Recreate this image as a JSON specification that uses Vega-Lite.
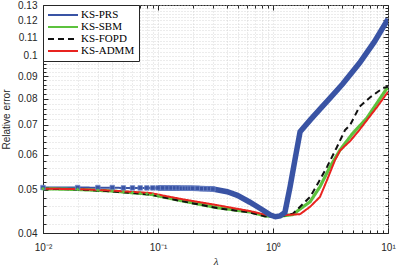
{
  "$schema": "https://vega.github.io/schema/vega-lite/v6.json",
  "width": 345,
  "height": 228,
  "autosize": "none",
  "padding": {"left": 43, "top": 5, "right": 10, "bottom": 33},
  "background": "white",
  "datasets": {
    "lines": [
      {"lam": 0.01, "err": 0.0506, "method": "KS-PRS"},
      {"lam": 0.02, "err": 0.0506, "method": "KS-PRS"},
      {"lam": 0.05, "err": 0.0505, "method": "KS-PRS"},
      {"lam": 0.1, "err": 0.0505, "method": "KS-PRS"},
      {"lam": 0.2, "err": 0.0504, "method": "KS-PRS"},
      {"lam": 0.3, "err": 0.0502, "method": "KS-PRS"},
      {"lam": 0.4, "err": 0.0495, "method": "KS-PRS"},
      {"lam": 0.49, "err": 0.0486, "method": "KS-PRS"},
      {"lam": 0.63, "err": 0.0469, "method": "KS-PRS"},
      {"lam": 0.82, "err": 0.045, "method": "KS-PRS"},
      {"lam": 0.95, "err": 0.0439, "method": "KS-PRS"},
      {"lam": 1.05, "err": 0.0435, "method": "KS-PRS"},
      {"lam": 1.15, "err": 0.0437, "method": "KS-PRS"},
      {"lam": 1.27, "err": 0.0445, "method": "KS-PRS"},
      {"lam": 1.41, "err": 0.0509, "method": "KS-PRS"},
      {"lam": 1.55, "err": 0.0583, "method": "KS-PRS"},
      {"lam": 1.72, "err": 0.0675, "method": "KS-PRS"},
      {"lam": 2.1, "err": 0.0717, "method": "KS-PRS"},
      {"lam": 2.56, "err": 0.0759, "method": "KS-PRS"},
      {"lam": 3.13, "err": 0.0803, "method": "KS-PRS"},
      {"lam": 4.03, "err": 0.0864, "method": "KS-PRS"},
      {"lam": 5.65, "err": 0.0963, "method": "KS-PRS"},
      {"lam": 7.6, "err": 0.1074, "method": "KS-PRS"},
      {"lam": 10, "err": 0.1209, "method": "KS-PRS"},

      {"lam": 0.01, "err": 0.0503, "method": "KS-SBM"},
      {"lam": 0.02, "err": 0.0501, "method": "KS-SBM"},
      {"lam": 0.04, "err": 0.0497, "method": "KS-SBM"},
      {"lam": 0.085, "err": 0.0489, "method": "KS-SBM"},
      {"lam": 0.165, "err": 0.0472, "method": "KS-SBM"},
      {"lam": 0.326, "err": 0.0456, "method": "KS-SBM"},
      {"lam": 0.63, "err": 0.0446, "method": "KS-SBM"},
      {"lam": 0.85, "err": 0.0437, "method": "KS-SBM"},
      {"lam": 1.0, "err": 0.0436, "method": "KS-SBM"},
      {"lam": 1.2, "err": 0.0437, "method": "KS-SBM"},
      {"lam": 1.49, "err": 0.044, "method": "KS-SBM"},
      {"lam": 1.72, "err": 0.0453, "method": "KS-SBM"},
      {"lam": 2.1, "err": 0.047, "method": "KS-SBM"},
      {"lam": 2.56, "err": 0.0508, "method": "KS-SBM"},
      {"lam": 3.13, "err": 0.0563, "method": "KS-SBM"},
      {"lam": 3.82, "err": 0.0614, "method": "KS-SBM"},
      {"lam": 4.9, "err": 0.0668, "method": "KS-SBM"},
      {"lam": 6.56, "err": 0.0725, "method": "KS-SBM"},
      {"lam": 8.02, "err": 0.0783, "method": "KS-SBM"},
      {"lam": 10, "err": 0.0852, "method": "KS-SBM"},

      {"lam": 0.01, "err": 0.0503, "method": "KS-FOPD"},
      {"lam": 0.02, "err": 0.0501, "method": "KS-FOPD"},
      {"lam": 0.04, "err": 0.0496, "method": "KS-FOPD"},
      {"lam": 0.085, "err": 0.0488, "method": "KS-FOPD"},
      {"lam": 0.165, "err": 0.0471, "method": "KS-FOPD"},
      {"lam": 0.326, "err": 0.0455, "method": "KS-FOPD"},
      {"lam": 0.63, "err": 0.0445, "method": "KS-FOPD"},
      {"lam": 0.85, "err": 0.0436, "method": "KS-FOPD"},
      {"lam": 1.0, "err": 0.0435, "method": "KS-FOPD"},
      {"lam": 1.2, "err": 0.0437, "method": "KS-FOPD"},
      {"lam": 1.49, "err": 0.0442, "method": "KS-FOPD"},
      {"lam": 1.72, "err": 0.0458, "method": "KS-FOPD"},
      {"lam": 2.1, "err": 0.0482, "method": "KS-FOPD"},
      {"lam": 2.46, "err": 0.0517, "method": "KS-FOPD"},
      {"lam": 2.95, "err": 0.0563, "method": "KS-FOPD"},
      {"lam": 3.6, "err": 0.0624, "method": "KS-FOPD"},
      {"lam": 4.23, "err": 0.0681, "method": "KS-FOPD"},
      {"lam": 4.67, "err": 0.0698, "method": "KS-FOPD"},
      {"lam": 5.65, "err": 0.0768, "method": "KS-FOPD"},
      {"lam": 7.0, "err": 0.0807, "method": "KS-FOPD"},
      {"lam": 9.05, "err": 0.0846, "method": "KS-FOPD"},
      {"lam": 10, "err": 0.0852, "method": "KS-FOPD"},

      {"lam": 0.01, "err": 0.0503, "method": "KS-ADMM"},
      {"lam": 0.02, "err": 0.0502, "method": "KS-ADMM"},
      {"lam": 0.04, "err": 0.0498, "method": "KS-ADMM"},
      {"lam": 0.085, "err": 0.0492, "method": "KS-ADMM"},
      {"lam": 0.165, "err": 0.0476, "method": "KS-ADMM"},
      {"lam": 0.326, "err": 0.0462, "method": "KS-ADMM"},
      {"lam": 0.63, "err": 0.0448, "method": "KS-ADMM"},
      {"lam": 0.85, "err": 0.044, "method": "KS-ADMM"},
      {"lam": 1.07, "err": 0.0439, "method": "KS-ADMM"},
      {"lam": 1.3, "err": 0.0439, "method": "KS-ADMM"},
      {"lam": 1.72, "err": 0.0441, "method": "KS-ADMM"},
      {"lam": 2.1, "err": 0.0458, "method": "KS-ADMM"},
      {"lam": 2.56, "err": 0.0482, "method": "KS-ADMM"},
      {"lam": 2.95, "err": 0.0526, "method": "KS-ADMM"},
      {"lam": 3.46, "err": 0.0583, "method": "KS-ADMM"},
      {"lam": 3.82, "err": 0.0612, "method": "KS-ADMM"},
      {"lam": 4.67, "err": 0.0643, "method": "KS-ADMM"},
      {"lam": 5.48, "err": 0.0675, "method": "KS-ADMM"},
      {"lam": 6.56, "err": 0.0717, "method": "KS-ADMM"},
      {"lam": 8.02, "err": 0.0767, "method": "KS-ADMM"},
      {"lam": 10, "err": 0.083, "method": "KS-ADMM"}
    ],
    "prsMarkers": [
      {"lam": 0.01, "err": 0.0506}, {"lam": 0.02, "err": 0.0506}, {"lam": 0.03, "err": 0.0506},
      {"lam": 0.04, "err": 0.0506}, {"lam": 0.05, "err": 0.0505}, {"lam": 0.06, "err": 0.0505},
      {"lam": 0.07, "err": 0.0505}, {"lam": 0.08, "err": 0.0505}, {"lam": 0.09, "err": 0.0505},
      {"lam": 0.1, "err": 0.0505}, {"lam": 0.11, "err": 0.0505}, {"lam": 0.12, "err": 0.0505},
      {"lam": 0.13, "err": 0.0505}, {"lam": 0.14, "err": 0.0505}, {"lam": 0.15, "err": 0.0505},
      {"lam": 0.16, "err": 0.0504}, {"lam": 0.17, "err": 0.0504}, {"lam": 0.18, "err": 0.0504},
      {"lam": 0.19, "err": 0.0504}, {"lam": 0.2, "err": 0.0504}, {"lam": 0.22, "err": 0.0504},
      {"lam": 0.24, "err": 0.0503}, {"lam": 0.26, "err": 0.0503}, {"lam": 0.28, "err": 0.0503},
      {"lam": 0.3, "err": 0.0502}
    ],
    "sbmMarkers": [
      {"lam": 0.01, "err": 0.0503}, {"lam": 0.02, "err": 0.0501}, {"lam": 0.03, "err": 0.0499},
      {"lam": 0.04, "err": 0.0497}, {"lam": 0.05, "err": 0.0495}, {"lam": 0.06, "err": 0.0493},
      {"lam": 0.07, "err": 0.0491}, {"lam": 0.08, "err": 0.049}, {"lam": 0.09, "err": 0.0488},
      {"lam": 0.1, "err": 0.0485}
    ],
    "axisDummy": [{"lam": 1, "err": 0.05}]
  },
  "layer": [
    {
      "data": {"name": "lines"},
      "mark": {"type": "line", "clip": true},
      "encoding": {
        "x": {
          "field": "lam", "type": "quantitative",
          "scale": {"type": "log", "domain": [0.01, 10], "nice": false},
          "axis": {
            "orient": "bottom",
            "title": "λ",
            "titleFont": "Liberation Serif",
            "titleFontStyle": "italic",
            "titleFontWeight": "normal",
            "titleFontSize": 11,
            "titlePadding": 1,
            "values": [0.01,0.02,0.03,0.04,0.05,0.06,0.07,0.08,0.09,0.1,0.2,0.3,0.4,0.5,0.6,0.7,0.8,0.9,1,2,3,4,5,6,7,8,9,10],
            "labelExpr": "datum.value == 0.01 ? '10⁻²' : datum.value == 0.1 ? '10⁻¹' : datum.value == 1 ? '10⁰' : datum.value == 10 ? '10¹' : ''",
            "labelOverlap": false,
            "labelFlush": false,
            "labelPadding": 14,
            "tickSize": {"condition": {"test": "datum.value == 0.01 || datum.value == 0.1 || datum.value == 1 || datum.value == 10", "value": -5}, "value": -3},
            "gridDash": [1, 2]
          }
        },
        "y": {
          "field": "err", "type": "quantitative",
          "scale": {"type": "log", "domain": [0.04, 0.13], "nice": false},
          "axis": {
            "orient": "left",
            "title": "Relative error",
            "titlePadding": 6,
            "titleFontSize": 10,
            "titleFontWeight": "normal",
            "values": [0.04,0.042,0.044,0.046,0.048,0.05,0.052,0.054,0.056,0.058,0.06,0.062,0.064,0.066,0.068,0.07,0.072,0.074,0.076,0.078,0.08,0.082,0.084,0.086,0.088,0.09,0.092,0.094,0.096,0.098,0.1,0.102,0.104,0.106,0.108,0.11,0.112,0.114,0.116,0.118,0.12,0.122,0.124,0.126,0.128,0.13],
            "labelExpr": "abs(datum.value*100 - round(datum.value*100)) < 0.000001 ? format(datum.value, '.2~f') : ''",
            "labelOverlap": false,
            "labelFlush": false,
            "labelPadding": 11,
            "tickSize": {"condition": {"test": "abs(datum.value*100 - round(datum.value*100)) < 0.000001", "value": -5}, "value": -3},
            "gridDash": [1, 2]
          }
        },
        "color": {
          "field": "method", "type": "nominal",
          "scale": {"domain": ["KS-PRS", "KS-SBM", "KS-FOPD", "KS-ADMM"], "range": ["#3953A4", "#5CC23D", "#111111", "#E8231F"]},
          "legend": {"title": null}
        },
        "strokeDash": {
          "field": "method", "type": "nominal",
          "scale": {"domain": ["KS-PRS", "KS-SBM", "KS-FOPD", "KS-ADMM"], "range": [[1, 0], [1, 0], [6, 4], [1, 0]]},
          "legend": {"title": null}
        },
        "strokeWidth": {
          "condition": [
            {"test": "datum.method == 'KS-PRS'", "value": 2},
            {"test": "datum.method == 'KS-SBM'", "value": 3.2}
          ],
          "value": 2
        },
        "order": {"field": "lam", "type": "quantitative"}
      }
    },
    {
      "data": {"name": "lines"},
      "transform": [{"filter": "datum.method == 'KS-PRS' && datum.lam >= 0.1"}],
      "mark": {"type": "line", "clip": true, "color": "#3953A4", "strokeWidth": 5.5},
      "encoding": {
        "x": {"field": "lam", "type": "quantitative", "axis": null},
        "y": {"field": "err", "type": "quantitative", "axis": null},
        "order": {"field": "lam", "type": "quantitative"}
      }
    },
    {
      "data": {"name": "prsMarkers"},
      "mark": {"type": "point", "shape": "square", "filled": true, "size": 20, "color": "#3953A4", "stroke": "#6F86C8", "strokeWidth": 0.8, "opacity": 1},
      "encoding": {
        "x": {"field": "lam", "type": "quantitative", "axis": null},
        "y": {"field": "err", "type": "quantitative", "axis": null}
      }
    },
    {
      "data": {"name": "sbmMarkers"},
      "mark": {"type": "point", "shape": "cross", "filled": true, "size": 10, "color": "#5CC23D", "opacity": 1},
      "encoding": {
        "x": {"field": "lam", "type": "quantitative", "axis": null},
        "y": {"field": "err", "type": "quantitative", "axis": null}
      }
    },
    {
      "data": {"name": "axisDummy"},
      "mark": {"type": "point", "opacity": 0},
      "encoding": {
        "x": {
          "field": "lam", "type": "quantitative",
          "axis": {
            "orient": "top", "title": null, "labels": false, "grid": false, "domain": false,
            "values": [0.01,0.02,0.03,0.04,0.05,0.06,0.07,0.08,0.09,0.1,0.2,0.3,0.4,0.5,0.6,0.7,0.8,0.9,1,2,3,4,5,6,7,8,9,10],
            "tickSize": {"condition": {"test": "datum.value == 0.01 || datum.value == 0.1 || datum.value == 1 || datum.value == 10", "value": -5}, "value": -3}
          }
        },
        "y": {
          "field": "err", "type": "quantitative",
          "axis": {
            "orient": "right", "title": null, "labels": false, "grid": false, "domain": false,
            "values": [0.04,0.042,0.044,0.046,0.048,0.05,0.052,0.054,0.056,0.058,0.06,0.062,0.064,0.066,0.068,0.07,0.072,0.074,0.076,0.078,0.08,0.082,0.084,0.086,0.088,0.09,0.092,0.094,0.096,0.098,0.1,0.102,0.104,0.106,0.108,0.11,0.112,0.114,0.116,0.118,0.12,0.122,0.124,0.126,0.128,0.13],
            "tickSize": {"condition": {"test": "abs(datum.value*100 - round(datum.value*100)) < 0.000001", "value": -5}, "value": -3}
          }
        }
      }
    }
  ],
  "resolve": {"axis": {"x": "independent", "y": "independent"}},
  "config": {
    "view": {"stroke": "#262626", "strokeWidth": 1},
    "axis": {
      "labelFont": "Liberation Sans",
      "labelFontSize": 10,
      "labelColor": "#262626",
      "titleFont": "Liberation Sans",
      "titleColor": "#262626",
      "domainColor": "#262626",
      "tickColor": "#262626",
      "gridColor": "#cfcfcf",
      "gridWidth": 0.8
    },
    "legend": {
      "orient": "top-left",
      "offset": 0,
      "padding": 4,
      "fillColor": "white",
      "strokeColor": "#262626",
      "labelFont": "Liberation Serif",
      "labelFontSize": 11,
      "labelColor": "#000000",
      "symbolType": "stroke",
      "symbolSize": 900,
      "symbolStrokeWidth": 2,
      "clipHeight": 12,
      "rowPadding": 0,
      "labelOffset": 2
    }
  }
}
